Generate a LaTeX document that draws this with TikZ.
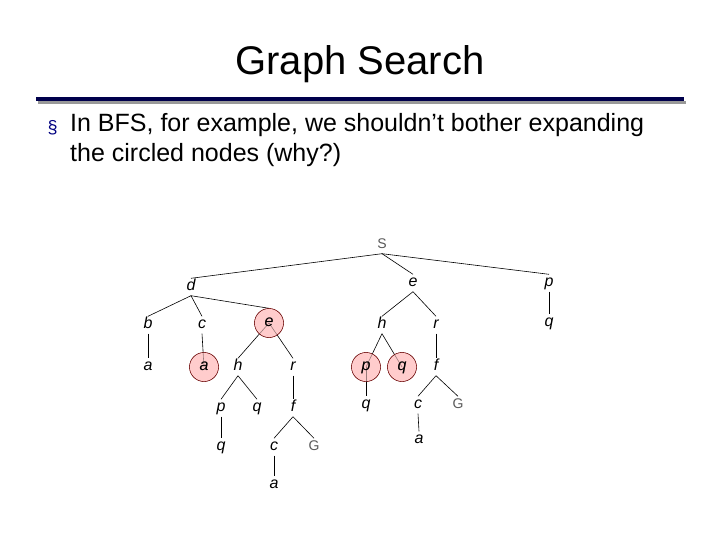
\documentclass[tikz,border=0pt]{standalone}
\usepackage{fontspec}
\setmainfont{Liberation Sans}
\begin{document}
\begin{tikzpicture}[x=1pt,y=-1pt,
  t/.style={font=\fontsize{16}{18}\selectfont\itshape,inner sep=3pt,text height=9pt,text depth=2pt},
  u/.style={font=\fontsize{14}{16}\selectfont,text=black!65,inner sep=3pt,text height=9pt,text depth=2pt},
  cir/.style={t,circle,fill=red!20,draw=red!40!black,minimum size=29pt,inner sep=0pt},
  e/.style={black,line width=0.6pt}]
\useasboundingbox (0,0) rectangle (720,540);
\node (title) at (360,64) {\fontsize{40}{46}\selectfont Graph Search};
\fill[black!40] (38,101) rectangle (686,104);
\fill[blue!30!black] (36,97) rectangle (684,101);
\node[anchor=west,text=blue!50!black] (bul) at (44,128) {\fontsize{18}{20}\selectfont\S};
\node[anchor=north west,align=left,inner sep=0pt,font=\fontsize{25}{30}\selectfont] (txt) at (70,113) {In BFS, for example, we shouldn’t bother expanding\\the circled nodes (why?)};
\node[u] (S) at (382,245) {S};
\node[t] (d) at (191,287) {d};
\node[t] (e) at (413,283) {e};
\node[t] (p) at (549,283) {p};
\node[t] (b) at (148,325) {b};
\node[t] (c) at (202,325) {c};
\node[cir] (e2) at (269,323) {e};
\node[t] (h) at (382,325) {h};
\node[t] (r) at (436,325) {r};
\node[t] (q) at (549,323) {q};
\node[t] (a) at (148,367) {a};
\node[cir] (a2) at (204,367) {a};
\node[t] (h2) at (238,367) {h};
\node[t] (r2) at (293,367) {r};
\node[cir] (p2) at (366,367) {p};
\node[cir] (q2) at (402,367) {q};
\node[t] (f) at (436,367) {f};
\node[t] (p3) at (221,408) {p};
\node[t] (q3) at (257,408) {q};
\node[t] (f2) at (293,408) {f};
\node[t] (q4) at (366,405) {q};
\node[t] (c3) at (418,405) {c};
\node[u] (G) at (458,405) {G};
\node[t] (q5) at (221,447) {q};
\node[t] (c2) at (274,447) {c};
\node[u] (G2) at (314,447) {G};
\node[t] (a3) at (419,440) {a};
\node[t] (a4) at (274,485) {a};
\draw[e] (S.south) -- (d.north);
\draw[e] (S.south) -- (e.north);
\draw[e] (S.south) -- (p.north);
\draw[e] (d.south) -- (b.north);
\draw[e] (d.south) -- (c.north);
\draw[e] (d.south) -- (e2.north);
\draw[e] (e.south) -- (h.north);
\draw[e] (e.south) -- (r.north);
\draw[e] (p.south) -- (q.north);
\draw[e] (b.south) -- (a.north);
\draw[e] (c.south) -- (a2.center);
\draw[e] (e2.center) -- (h2.north);
\draw[e] (e2.center) -- (r2.north);
\draw[e] (h.south) -- (p2.center);
\draw[e] (h.south) -- (q2.center);
\draw[e] (r.south) -- (f.north);
\draw[e] (h2.south) -- (p3.north);
\draw[e] (h2.south) -- (q3.north);
\draw[e] (r2.south) -- (f2.north);
\draw[e] (p2.center) -- (q4.north);
\draw[e] (f.south) -- (c3.north);
\draw[e] (f.south) -- (G.north);
\draw[e] (p3.south) -- (q5.north);
\draw[e] (f2.south) -- (c2.north);
\draw[e] (f2.south) -- (G2.north);
\draw[e] (c3.south) -- (a3.north);
\draw[e] (c2.south) -- (a4.north);
\node[cir,fill opacity=0.6,text opacity=1] at (e2) {e};
\node[cir,fill opacity=0.6,text opacity=1] at (a2) {a};
\node[cir,fill opacity=0.6,text opacity=1] at (p2) {p};
\node[cir,fill opacity=0.6,text opacity=1] at (q2) {q};
\end{tikzpicture}
\end{document}
